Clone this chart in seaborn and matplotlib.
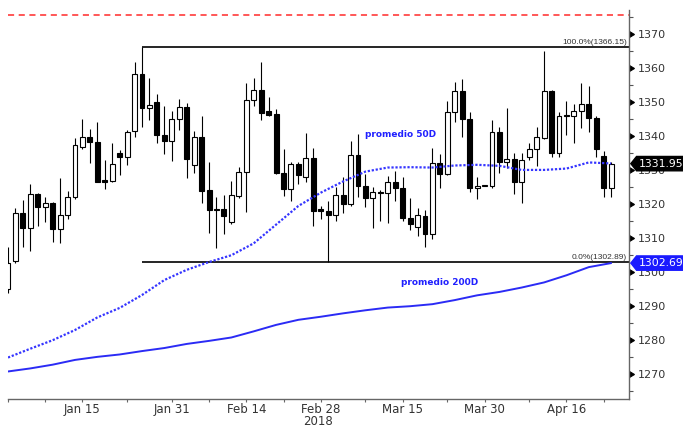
import numpy as np
import pandas as pd
import matplotlib
matplotlib.use("Agg")
import matplotlib.pyplot as plt
import matplotlib.transforms as mtransforms
from matplotlib.path import Path
import seaborn as sns

# 1. Data (daily gold candles, Jan - Apr 2018)
dates = pd.bdate_range("2018-01-01", periods=82)

opens = [1295.0, 1303.3, 1317.5, 1312.9, 1322.9, 1319.3, 1320.3, 1312.6, 1316.9, 1322.1,
         1336.8, 1339.9, 1338.4, 1327.0, 1326.9, 1335.2, 1333.8, 1341.5, 1358.3, 1348.2,
         1350.0, 1340.3, 1338.5, 1345.0, 1348.7, 1331.4, 1339.7, 1324.2, 1318.6, 1318.5,
         1314.7, 1322.5, 1329.4, 1350.7, 1353.6, 1347.5, 1346.6, 1329.1, 1324.5, 1331.9,
         1327.9, 1333.5, 1318.5, 1318.1, 1316.9, 1322.6, 1320.0, 1334.4, 1325.4, 1321.8,
         1323.7, 1323.2, 1326.4, 1324.9, 1316.1, 1313.2, 1316.6, 1311.2, 1332.0, 1328.8,
         1347.2, 1353.4, 1345.0, 1324.9, 1325.5, 1325.5, 1341.2, 1332.5, 1333.3, 1326.5,
         1333.8, 1336.2, 1339.4, 1353.4, 1335.0, 1346.2, 1346.0, 1347.4, 1349.4, 1345.5,
         1334.3, 1324.9]
highs = [1307.5, 1318.8, 1321.3, 1325.9, 1323.2, 1322.1, 1320.6, 1327.6, 1324.0, 1339.4,
         1345.0, 1342.2, 1344.2, 1333.0, 1338.1, 1336.0, 1341.9, 1361.9, 1366.15, 1357.0,
         1352.4, 1348.9, 1347.5, 1351.0, 1349.9, 1341.6, 1346.1, 1332.4, 1322.0, 1322.7,
         1326.9, 1331.1, 1355.6, 1357.0, 1361.8, 1351.5, 1348.1, 1336.3, 1332.3, 1332.4,
         1340.9, 1336.6, 1319.5, 1321.0, 1325.2, 1327.9, 1338.6, 1340.6, 1328.8, 1325.2,
         1324.2, 1328.3, 1329.9, 1327.9, 1321.8, 1318.8, 1318.3, 1336.6, 1334.8, 1350.4,
         1355.9, 1356.9, 1347.1, 1328.1, 1325.7, 1344.8, 1342.6, 1348.2, 1335.0, 1335.0,
         1337.9, 1342.6, 1365.2, 1353.6, 1347.2, 1350.4, 1349.4, 1355.8, 1354.8, 1346.0,
         1335.7, 1332.4]
lows = [1294.0, 1302.6, 1307.5, 1306.1, 1313.7, 1314.7, 1309.0, 1308.5, 1315.7, 1321.6,
        1336.2, 1332.1, 1326.4, 1324.4, 1326.4, 1328.5, 1331.4, 1339.7, 1342.6, 1344.8,
        1338.0, 1334.7, 1332.8, 1341.9, 1327.6, 1329.1, 1320.3, 1311.6, 1307.0, 1311.2,
        1314.1, 1321.8, 1317.8, 1348.9, 1344.8, 1346.1, 1328.8, 1322.5, 1321.0, 1326.0,
        1326.6, 1313.6, 1315.6, 1302.89, 1315.2, 1317.5, 1319.5, 1322.2, 1319.1, 1312.9,
        1315.2, 1314.4, 1321.0, 1315.2, 1312.4, 1310.7, 1307.4, 1309.8, 1324.9, 1328.6,
        1344.3, 1339.9, 1323.7, 1321.5, 1325.4, 1324.9, 1329.1, 1330.6, 1322.9, 1320.3,
        1333.0, 1331.3, 1339.2, 1334.0, 1333.8, 1340.4, 1337.9, 1342.4, 1341.4, 1334.0,
        1322.2, 1322.2]
closes = [1302.6, 1317.5, 1312.9, 1322.9, 1319.3, 1320.3, 1312.7, 1316.9, 1322.2, 1337.5,
          1339.9, 1338.3, 1326.6, 1326.6, 1331.8, 1333.8, 1341.3, 1358.3, 1348.2, 1349.1,
          1340.3, 1338.5, 1345.0, 1348.6, 1333.2, 1339.7, 1323.9, 1318.3, 1318.2, 1316.4,
          1322.6, 1329.5, 1350.7, 1353.6, 1346.9, 1346.3, 1329.1, 1324.5, 1331.9, 1328.6,
          1333.5, 1318.0, 1318.1, 1316.9, 1322.6, 1320.0, 1334.4, 1325.4, 1321.8, 1323.7,
          1323.2, 1326.4, 1324.7, 1316.1, 1314.1, 1316.7, 1311.3, 1332.0, 1328.8, 1347.2,
          1353.4, 1345.0, 1324.9, 1325.5, 1325.6, 1341.2, 1332.5, 1333.3, 1326.5, 1333.0,
          1336.2, 1339.7, 1353.4, 1335.0, 1346.0, 1345.9, 1347.4, 1349.4, 1345.5, 1336.3,
          1324.9, 1331.95]

# moving averages, read every 3 sessions
ma_pos = list(range(0, 82, 3))
ma50 = [1274.9, 1277.5, 1280.0, 1283.0, 1286.7, 1289.5, 1293.3, 1297.7, 1300.7, 1303.0,
        1305.0, 1308.5, 1314.0, 1319.5, 1323.4, 1326.7, 1329.6, 1330.8, 1330.9, 1330.8,
        1331.4, 1331.6, 1331.3, 1330.1, 1330.1, 1330.5, 1332.3, 1332.0]
ma200 = [1270.8, 1271.7, 1272.8, 1274.2, 1275.1, 1275.8, 1276.8, 1277.7, 1278.9, 1279.8,
         1280.8, 1282.6, 1284.5, 1286.0, 1286.9, 1287.9, 1288.8, 1289.6, 1290.0, 1290.6,
         1291.8, 1293.2, 1294.2, 1295.5, 1297.0, 1299.1, 1301.5, 1302.69]

fib_high = 1366.15
fib_low = 1302.89
fib_start = pd.Timestamp("2018-01-25")
resistance = 1375.6

label_dates = ["2018-01-15", "2018-01-31", "2018-02-14", "2018-02-28",
               "2018-03-15", "2018-03-30", "2018-04-16"]
label_text = ["Jan 15", "Jan 31", "Feb 14", "Feb 28", "Mar 15", "Mar 30", "Apr 16"]
minor_dates = ["2018-01-01", "2018-01-08", "2018-01-23", "2018-02-07", "2018-02-21",
               "2018-03-08", "2018-03-23", "2018-04-09", "2018-04-23"]

# 2. Figure
sns.set_theme(style="white")
plt.rcParams["font.family"] = ["DejaVu Sans"]

fig = plt.figure(figsize=(6.83, 4.26), dpi=100)
ax = fig.add_axes([8 / 683, 27 / 426, 621 / 683, 389 / 426])

x = np.arange(len(dates))
o, h, l, c = (np.array(v) for v in (opens, highs, lows, closes))
up = c >= o

# candles
ax.vlines(x, l, h, color="black", lw=0.8, zorder=2)
ax.bar(x[up], np.maximum(c - o, 0.15)[up], bottom=o[up], width=0.66,
       color="white", edgecolor="black", lw=0.8, zorder=3)
ax.bar(x[~up], np.maximum(o - c, 0.15)[~up], bottom=c[~up], width=0.66,
       color="black", edgecolor="black", lw=0.8, zorder=3)

# moving averages
sns.lineplot(x=ma_pos, y=ma50, ax=ax, color="#3535ff", lw=1.6,
             linestyle=(0, (1, 0.8)), zorder=4)
sns.lineplot(x=ma_pos, y=ma200, ax=ax, color="#2b2bf5", lw=1.4, zorder=4)

xmax = 83.4
ax.set_xlim(0.05, xmax)
ax.set_ylim(1262.7, 1377.15)

# fibonacci lines + resistance
i0 = dates.get_loc(fib_start)
ax.hlines([fib_high, fib_low], i0, xmax, color="black", lw=1.2, zorder=2)
ax.text(xmax - 0.3, fib_high + 0.4, f"100.0%({fib_high:.2f})", ha="right", va="bottom",
        fontsize=6, family="Liberation Sans", color="#333333")
ax.text(xmax - 0.3, fib_low + 0.4, f"0.0%({fib_low:.2f})", ha="right", va="bottom",
        fontsize=6, family="Liberation Sans", color="#333333")
ax.axhline(resistance, color="#ff2a2a", lw=1.1, dashes=(4, 3))

ax.text(52.7, 1340.4, "promedio 50D", color="#2020ff", fontsize=6.5,
        fontweight="bold", ha="center", va="center")
ax.text(58.0, 1297.1, "promedio 200D", color="#2020ff", fontsize=6.5,
        fontweight="bold", ha="center", va="center")

# 3. Axes styling
for s in ["left", "top"]:
    ax.spines[s].set_visible(False)
for s in ["right", "bottom"]:
    ax.spines[s].set_color("#666666")
    ax.spines[s].set_linewidth(1.0)

ax.yaxis.tick_right()
ax.set_yticks(np.arange(1270, 1371, 10))
ax.set_yticks(np.arange(1265, 1376, 10), minor=True)
ax.tick_params(axis="y", which="major", length=4.5, width=0.8, pad=2,
               labelsize=8, labelcolor="#333333", colors="black")
ax.tick_params(axis="y", which="minor", right=True, length=3, width=0.8, color="#555555")
for t in ax.yaxis.get_major_ticks():
    t.tick2line.set_marker(9)
    t.tick2line.set_markersize(4.5)
    t.tick2line.set_markerfacecolor("black")

ax.set_xticks([dates.get_loc(pd.Timestamp(d)) for d in label_dates])
ax.set_xticklabels(label_text)
ax.set_xticks([dates.get_loc(pd.Timestamp(d)) for d in minor_dates], minor=True)
ax.tick_params(axis="x", which="both", bottom=True, length=2.2, width=0.8,
               color="#666666", pad=0.6, labelsize=8.5, labelcolor="#333333")
ax.text(dates.get_loc(pd.Timestamp("2018-02-28")) - 0.3, -0.005, "2018",
        transform=mtransforms.blended_transform_factory(ax.transData, fig.transFigure),
        ha="center", va="bottom", fontsize=8.5, color="#333333")
ax.set_xlabel("")
ax.set_ylabel("")
ax.grid(False)


# 4. Last value tags on the price axis
def tag_box(x0, y0, width, height, mutation_size):
    pad = 0.2 * mutation_size
    x0, y0 = x0 - pad, y0 - pad
    x1, y1 = x0 + width + 2 * pad, y0 + height + 2 * pad
    tip = (y1 - y0) / 2
    return Path([(x0, y0), (x1, y0), (x1, y1), (x0, y1), (x0 - tip * 0.8, (y0 + y1) / 2),
                 (x0, y0)], closed=True)


trans = mtransforms.blended_transform_factory(ax.transAxes, ax.transData)
for val, col in [(closes[-1], "black"), (ma200[-1], "#1a1aff")]:
    ax.annotate(f"{val:.2f}", xy=(1, val), xycoords=trans, xytext=(7, 0),
                textcoords="offset points", ha="left", va="center", fontsize=7.8,
                color="white", annotation_clip=False, zorder=6,
                bbox=dict(boxstyle=tag_box, fc=col, ec=col))

plt.savefig("out.png", dpi=100)
